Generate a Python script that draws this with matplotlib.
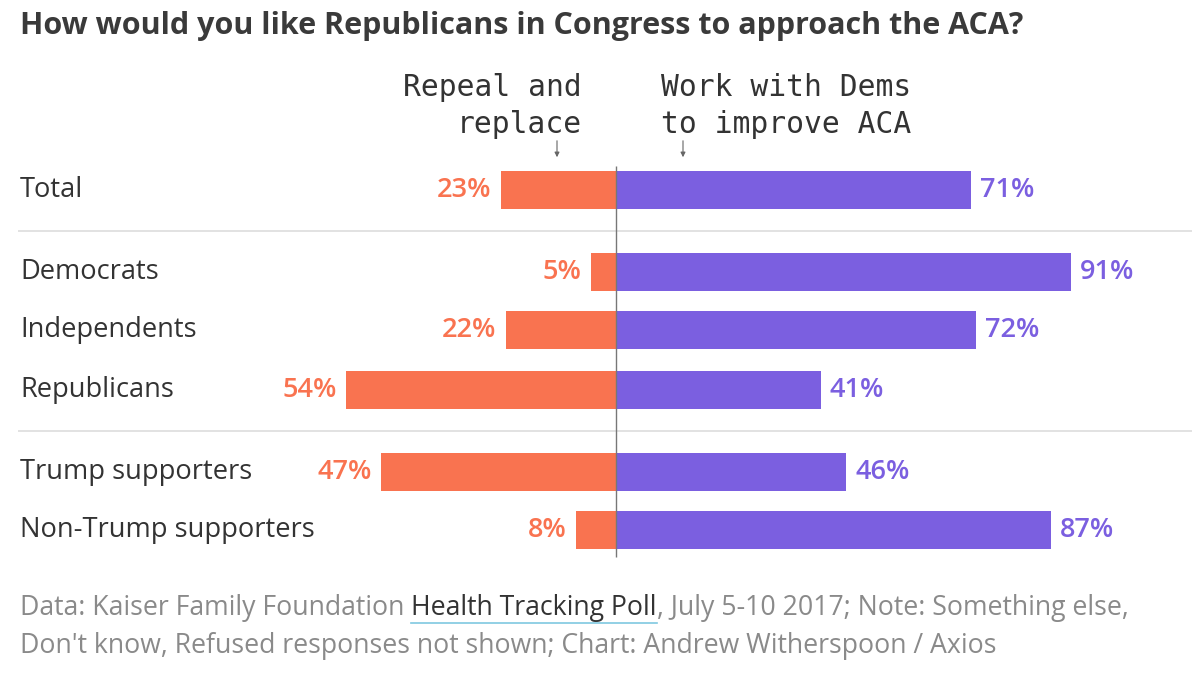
import matplotlib
matplotlib.use('Agg')
import matplotlib.pyplot as plt

groups = ['Total', 'Democrats', 'Independents', 'Republicans',
          'Trump supporters', 'Non-Trump supporters']
repeal = [23, 5, 22, 54, 47, 8]
work_with_dems = [71, 91, 72, 41, 46, 87]

title = 'How would you like Republicans in Congress to approach the ACA?'
left_header = 'Repeal and\nreplace'
right_header = 'Work with Dems\nto improve ACA'

ORANGE = '#F97350'
PURPLE = '#7B5FE0'
DARK = '#333333'
GREY = '#8a8a8a'

# layout (pixel units on a 1200x695 canvas)
row_y = [190, 272, 330, 390, 472, 530]
separators = [231, 431]
bar_h = 38
zero_px = 616
px_per_pct = 5.0

fig = plt.figure(figsize=(12, 6.95), dpi=100)
ax = fig.add_axes([0, 0, 1, 1])
ax.set_xlim(-zero_px / px_per_pct, (1200 - zero_px) / px_per_pct)
ax.set_ylim(695, 0)
ax.axis('off')

def px(x):
    # pixel x -> data x
    return (x - zero_px) / px_per_pct

sans = 'Open Sans'

ax.barh(row_y, [-v for v in repeal], height=bar_h, color=ORANGE, zorder=2)
ax.barh(row_y, work_with_dems, height=bar_h, color=PURPLE, zorder=2)
ax.vlines(0, 166, 557, color='#777777', lw=1, zorder=3)

for y in separators:
    ax.hlines(y, px(18), px(1192), color='#dddddd', lw=1.2, zorder=1)

for y, name, r, w in zip(row_y, groups, repeal, work_with_dems):
    ax.text(px(20), y, name, ha='left', va='center', fontsize=19.6,
            family=sans, color=DARK)
    ax.text(-r - 1.9, y, f'{r}%', ha='right', va='center', fontsize=19.5,
            family=sans, fontweight='semibold', color=ORANGE)
    ax.text(w + 1.8, y, f'{w}%', ha='left', va='center', fontsize=19.5,
            family=sans, fontweight='semibold', color=PURPLE)

ax.text(px(582), 106, left_header, ha='right', va='center', fontsize=21.3,
        family='DejaVu Sans Mono', color=DARK, linespacing=1.38,
        multialignment='right')
ax.text(px(661), 106, right_header, ha='left', va='center', fontsize=21.3,
        family='DejaVu Sans Mono', color=DARK, linespacing=1.38)
for x in (557, 683):
    ax.annotate('', xy=(px(x), 160), xytext=(px(x), 138),
                arrowprops=dict(arrowstyle='-|>', color='#666666', lw=0.8,
                                mutation_scale=7))

fig.text(20 / 1200, 1 - 26 / 695, title, ha='left', va='center',
         fontsize=22, family=sans, fontweight='bold', color='#3a3a3a')

# footer, built piece by piece so the link part can be dark and underlined
fig.canvas.draw()
renderer = fig.canvas.get_renderer()
pieces = [('Data: Kaiser Family Foundation ', GREY),
          ('Health Tracking Poll', DARK),
          (', July 5-10 2017; Note: Something else,', GREY)]
x0 = 20
y1 = 1 - 608 / 695
for txt, col in pieces:
    t = fig.text(x0 / 1200, y1, txt, ha='left', va='center', fontsize=19.2,
                 family=sans, color=col)
    bb = t.get_window_extent(renderer)
    if col == DARK:
        fig.add_artist(plt.Line2D([bb.x0 / 1200, bb.x1 / 1200],
                                  [1 - 623 / 695] * 2, color='#7fc8e0', lw=1.2))
    x0 = bb.x1
fig.text(20 / 1200, 1 - 646 / 695,
         "Don't know, Refused responses not shown; Chart: Andrew Witherspoon / Axios",
         ha='left', va='center', fontsize=19.2, family=sans, color=GREY)

fig.savefig('out.png', dpi=100, facecolor='white')
